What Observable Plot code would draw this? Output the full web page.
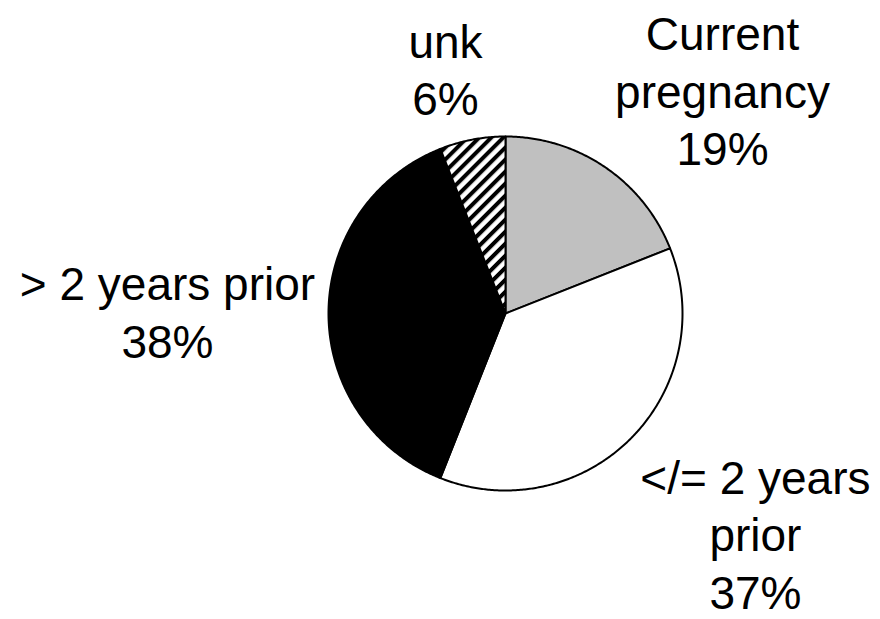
<!DOCTYPE html>
<html>
<head>
<meta charset="utf-8">
<script src="https://cdn.jsdelivr.net/npm/d3@7"></script>
<script src="https://cdn.jsdelivr.net/npm/@observablehq/plot@0.6"></script>
<style>
  html, body { margin: 0; padding: 0; background: #fff; }
  #chart { width: 880px; height: 619px; }
</style>
</head>
<body>
<div id="chart"></div>
<script>
// ---- data ----
const categories = ["Current pregnancy", "</= 2 years prior", "> 2 years prior", "unk"];
const percents = [19, 37, 38, 6];
const labelNames = ["Current\npregnancy", "</= 2 years\nprior", "> 2 years prior", "unk"];
const sliceFills = ["#c0c0c0", "#ffffff", "#000000", "url(#hatch)"];

// ---- layout (unit-circle coordinates for label anchors) ----
const labelPos = [[1.226, 1.266], [1.412, -1.238], [-1.910, 0.017], [-0.339, 1.385]];

const rows = categories.map((c, i) => ({cat: c, value: percents[i]}));
const arcs = d3.pie().sort(null).value(d => d.value)(rows);

const pts = [];
for (const a of arcs) {
  pts.push({cat: a.data.cat, x: 0, y: 0});
  const n = Math.max(2, Math.ceil((a.endAngle - a.startAngle) / (Math.PI / 360)));
  for (let k = 0; k <= n; k++) {
    const t = a.startAngle + (a.endAngle - a.startAngle) * k / n;
    pts.push({cat: a.data.cat, x: Math.sin(t), y: Math.cos(t)});
  }
}

const labels = categories.map((c, i) => ({
  text: `${labelNames[i]}\n${percents[i]}%`,
  x: labelPos[i][0],
  y: labelPos[i][1]
}));

const svg = Plot.plot({
  width: 880,
  height: 619,
  margin: 0,
  x: {domain: [-1, 1], range: [328, 682], axis: null},
  y: {domain: [-1, 1], range: [490, 136], axis: null},
  color: {type: "ordinal", domain: categories, range: sliceFills},
  style: {background: "#fff"},
  marks: [
    Plot.line(pts, {
      x: "x", y: "y", z: "cat", fill: "cat",
      stroke: "#000", strokeWidth: 2, curve: "linear-closed", strokeLinejoin: "round"
    }),
    Plot.text(labels, {
      x: "x", y: "y", text: "text",
      fontSize: 46, lineHeight: 1.25,
      fontFamily: "Liberation Sans, Arial, sans-serif",
      fill: "#000"
    })
  ]
});

// hatch pattern definition
const defs = d3.select(svg).insert("defs", ":first-child");
const pat = defs.append("pattern")
  .attr("id", "hatch")
  .attr("patternUnits", "userSpaceOnUse")
  .attr("width", 8.5).attr("height", 8.5)
  .attr("patternTransform", "rotate(45)");
pat.append("rect").attr("width", 8.5).attr("height", 8.5).attr("fill", "#fff");
pat.append("rect").attr("width", 4).attr("height", 8.5).attr("fill", "#000");

document.getElementById("chart").appendChild(svg);
</script>
</body>
</html>
